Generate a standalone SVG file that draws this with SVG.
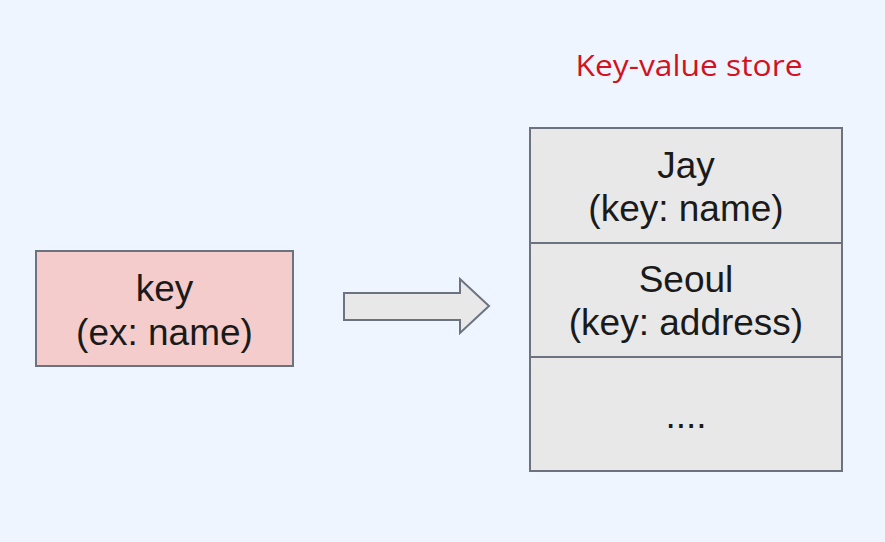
<svg xmlns="http://www.w3.org/2000/svg" width="885" height="542" viewBox="0 0 885 542">
<style>
.bg{fill:#eff5fe}
.box{stroke:#6c7280;stroke-width:2}
.t{font-family:"Liberation Sans",Arial,sans-serif;font-size:37px;fill:#1a1a1a;text-anchor:middle}
.title{font-family:"Open Sans","Liberation Sans",sans-serif;font-size:29px;fill:#d2121f;text-anchor:middle}
</style>
<rect class="bg" x="0" y="0" width="885" height="542"/>
<text class="title" x="689" y="76" textLength="227" lengthAdjust="spacingAndGlyphs">Key-value store</text>
<g id="key">
<rect class="box" x="36" y="251" width="257" height="115" fill="#f4cccc"/>
<text class="t" x="164.5" y="301">key</text>
<text class="t" x="164.5" y="345">(ex: name)</text>
</g>
<g id="connectors">
<path class="box" d="M344,293 L460,293 L460,279 L489,306 L460,333 L460,320 L344,320 Z" fill="#e8e8e8"/>
</g>
<g id="store">
<rect class="box" x="530" y="128" width="312" height="343" fill="#e8e8e8"/>
<line class="box" x1="530" y1="243" x2="842" y2="243"/>
<line class="box" x1="530" y1="357" x2="842" y2="357"/>
<text class="t" x="686" y="178">Jay</text>
<text class="t" x="686" y="221">(key: name)</text>
<text class="t" x="686" y="292">Seoul</text>
<text class="t" x="686" y="335">(key: address)</text>
<text class="t" x="686" y="428">....</text>
</g>
</svg>
